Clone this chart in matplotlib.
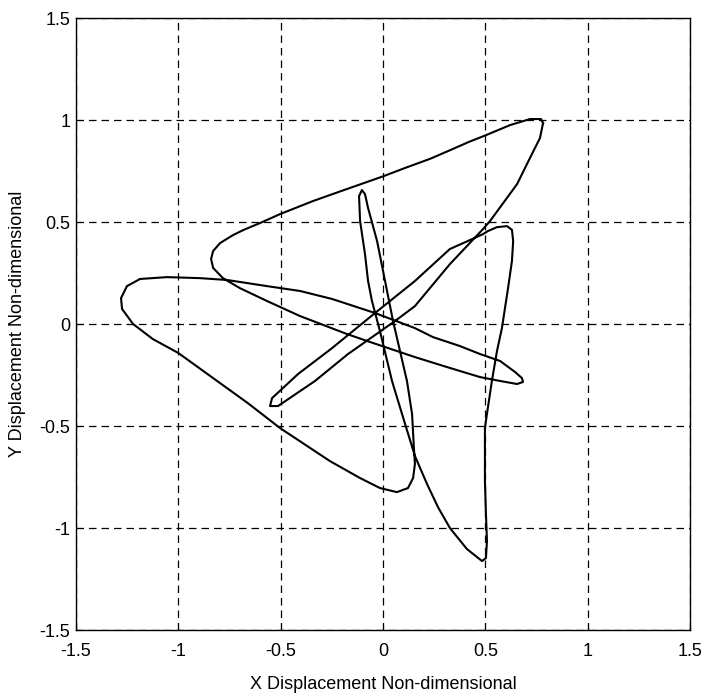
import matplotlib
matplotlib.use('Agg')
import matplotlib.pyplot as plt

plt.rcParams['font.family'] = ['Liberation Sans', 'DejaVu Sans']

# orbit, in order: top-right tip -> upper-left tip -> right tip
# -> far-left tip -> bottom corner -> upper thin tip -> bottom tip -> right loop -> lower-left tip -> back
x_disp = [0.782, 0.772, 0.718, 0.620, 0.508, 0.420, 0.327, 0.230, 0.110, 0.000, -0.176,
          -0.342, -0.503, -0.601, -0.680, -0.733, -0.796, -0.830, -0.840,
          -0.830, -0.782, -0.699, -0.567, -0.405, -0.176, -0.078, 0.156, 0.313, 0.474,
          0.572, 0.655, 0.684, 0.679, 0.645, 0.572,
          0.474, 0.376, 0.244, 0.156, -0.039, -0.249, -0.405, -0.567, -0.762, -0.894,
          -1.055, -1.187, -1.251, -1.280, -1.275,
          -1.221, -1.124, -1.000, -0.830, -0.660, -0.503, -0.259, -0.112, -0.015, 0.068,
          0.122, 0.147, 0.156, 0.151, 0.142,
          0.117, 0.083, 0.049, 0.010, -0.029, -0.073, -0.088, -0.103, -0.117, -0.112,
          -0.088, -0.073,
          -0.054, -0.015, 0.044, 0.093, 0.156, 0.215, 0.270, 0.327, 0.410, 0.484, 0.503,
          0.508, 0.503, 0.498, 0.498, 0.508, 0.532, 0.557, 0.581, 0.611, 0.630, 0.636,
          0.630, 0.606, 0.557, 0.513,
          0.489, 0.410, 0.327, 0.156, -0.039, -0.249, -0.415, -0.542, -0.552, -0.513, -0.332,
          -0.171, 0.059, 0.156, 0.327, 0.489, 0.523, 0.655, 0.718, 0.767, 0.782]
y_disp = [0.985, 1.005, 1.005, 0.975, 0.928, 0.893, 0.852, 0.810, 0.766, 0.724, 0.662,
          0.603, 0.539, 0.495, 0.462, 0.436, 0.397, 0.358, 0.319,
          0.275, 0.225, 0.176, 0.113, 0.039, -0.049, -0.083, -0.162, -0.211, -0.260,
          -0.279, -0.294, -0.284, -0.265, -0.235, -0.181,
          -0.147, -0.108, -0.064, -0.020, 0.054, 0.123, 0.162, 0.186, 0.216, 0.225,
          0.230, 0.221, 0.186, 0.127, 0.074,
          0.000, -0.074, -0.142, -0.265, -0.388, -0.510, -0.672, -0.755, -0.804, -0.824,
          -0.804, -0.755, -0.686, -0.608, -0.441,
          -0.279, -0.132, 0.015, 0.211, 0.407, 0.569, 0.637, 0.657, 0.627, 0.505,
          0.343, 0.211,
          0.113, -0.034, -0.279, -0.441, -0.647, -0.784, -0.900, -1.000, -1.103, -1.162, -1.147,
          -1.064, -0.931, -0.770, -0.510, -0.440, -0.279, -0.132, -0.020, 0.176, 0.309, 0.407,
          0.462, 0.480, 0.475, 0.456,
          0.441, 0.405, 0.368, 0.211, 0.054, -0.118, -0.245, -0.363, -0.402, -0.402, -0.279,
          -0.147, 0.015, 0.088, 0.294, 0.466, 0.505, 0.686, 0.814, 0.912, 0.985]

ticks = [-1.5, -1, -0.5, 0, 0.5, 1, 1.5]
tick_labels = ['-1.5', '-1', '-0.5', '0', '0.5', '1', '1.5']

fig = plt.figure(figsize=(7.09, 6.95), dpi=100)
ax = fig.add_axes([0.1072, 0.0935, 0.866, 0.8805])
ax.plot(x_disp, y_disp, color='black', linewidth=1.5)

ax.set_xlim(-1.5, 1.5)
ax.set_ylim(-1.5, 1.5)
ax.set_xticks(ticks)
ax.set_yticks(ticks)
ax.set_xticklabels(tick_labels)
ax.set_yticklabels(tick_labels)
ax.grid(True, color='black', linestyle=(0, (6, 4)), linewidth=0.9)
ax.tick_params(axis='both', direction='in', length=4, labelsize=13)
ax.tick_params(axis='x', pad=9)
ax.tick_params(axis='y', pad=4)
for s in ax.spines.values():
    s.set_linewidth(1.0)

ax.set_xlabel('X Displacement Non-dimensional', fontsize=13, labelpad=12)
ax.set_ylabel('Y Displacement Non-dimensional', fontsize=13, labelpad=10)

fig.savefig('out.png', dpi=100)
